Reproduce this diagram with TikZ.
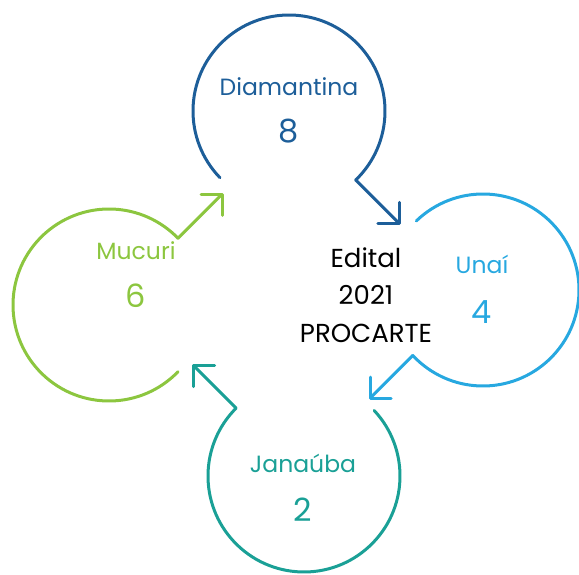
\documentclass[tikz,border=0pt]{standalone}
\usepackage{fontspec}
\setmainfont{Poppins}
\usetikzlibrary{arrows.meta,positioning,calc}
\definecolor{diablue}{RGB}{29,94,153}
\definecolor{unaiblue}{RGB}{39,168,224}
\definecolor{janteal}{RGB}{26,160,150}
\definecolor{mucgreen}{RGB}{140,198,63}

\begin{document}
\begin{tikzpicture}[x=1pt, y=1pt,
    ring/.style={line width=3pt, line cap=round},
    arrow/.style={line width=3pt, line cap=round,
                  -{Straight Barb[length=15pt, width=30pt, round]}},
    lbl/.style={font=\fontsize{23.5}{27}\selectfont, anchor=base, inner sep=0pt},
    num/.style={font=\fontsize{32}{36}\selectfont, anchor=base, inner sep=0pt},
    title/.style={font=\fontsize{26}{37.5}\selectfont, align=center, inner sep=0pt}]

\useasboundingbox (0,0) rectangle (579,574);

% Ring centres
\coordinate (dia) at (289,463);
\coordinate (una) at (483,284);
\coordinate (jan) at (304,98);
\coordinate (muc) at (109,269);

% Arrow ends
\coordinate (dia-out) at ($(dia)+(-46:96)$);
\coordinate (dia-tip) at ($(dia-out)+(-45:63)$);
\coordinate (una-out) at ($(una)+(-137:96)$);
\coordinate (una-tip) at ($(una-out)+(-135:62)$);
\coordinate (jan-out) at ($(jan)+(135:96)$);
\coordinate (jan-tip) at ($(jan-out)+(135:62)$);
\coordinate (muc-out) at ($(muc)+(44:96)$);
\coordinate (muc-tip) at ($(muc-out)+(45:64)$);

% Rings
\draw[ring, diablue] ($(dia)+(224:96)$) arc[start angle=224, end angle=-46, radius=96];
\draw[ring, unaiblue] ($(una)+(134:96)$) arc[start angle=134, end angle=-137, radius=96];
\draw[ring, janteal] ($(jan)+(43:96)$) arc[start angle=43, end angle=-225, radius=96];
\draw[ring, mucgreen] ($(muc)+(-44:96)$) arc[start angle=-44, end angle=-316, radius=96];

% Arrows
\draw[arrow, diablue] (dia-out) -- (dia-tip);
\draw[arrow, unaiblue] (una-out) -- (una-tip);
\draw[arrow, janteal] (jan-out) -- (jan-tip);
\draw[arrow, mucgreen] (muc-out) -- (muc-tip);

% Names and counts
\node[lbl, diablue] (dia-name) at (289,478) {Diamantina};
\node[num, diablue] (dia-num) at (289,431) {8};
\node[lbl, unaiblue] (una-name) at (482,300) {Unaí};
\node[num, unaiblue] (una-num) at (482,250) {4};
\node[lbl, janteal] (jan-name) at (303,102) {Janaúba};
\node[num, janteal] (jan-num) at (303,53) {2};
\node[lbl, mucgreen] (muc-name) at (136,314) {Mucuri};
\node[num, mucgreen] (muc-num) at (136,266) {6};

% Centre
\node[title] (edital) at (366,279) {Edital\\2021\\PROCARTE};
\end{tikzpicture}
\end{document}
